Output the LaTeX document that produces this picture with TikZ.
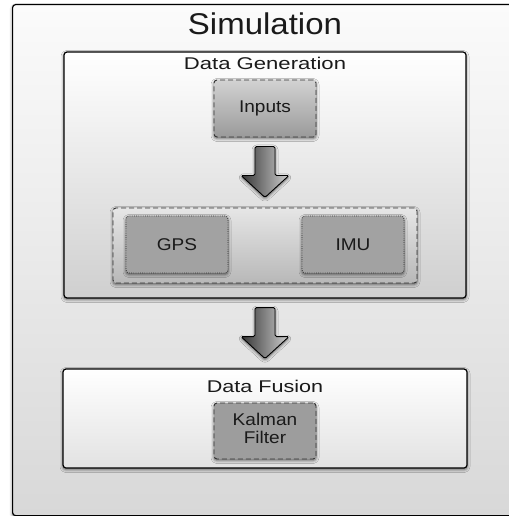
\documentclass[tikz,border=0pt]{standalone}
\usepackage{fontspec}
\setmainfont{Liberation Sans}
\usepackage{graphicx}
\usetikzlibrary{shadows.blur,calc}
\definecolor{txt}{HTML}{1A1A1A}
\definecolor{outtop}{HTML}{FBFBFB}
\definecolor{outbot}{HTML}{D8D8D8}
\definecolor{dgbot}{HTML}{CFCFCF}
\definecolor{dfbot}{HTML}{E2E2E2}
\definecolor{intop}{HTML}{D2D2D2}
\definecolor{inbot}{HTML}{9A9A9A}
\definecolor{senstop}{HTML}{E6E6E6}
\definecolor{sensbot}{HTML}{B8B8B8}
\definecolor{sensorfill}{HTML}{A2A2A2}
\definecolor{kffill}{HTML}{9D9D9D}
\definecolor{arrdark}{HTML}{353535}
\definecolor{arrlight}{HTML}{D0D0D0}
\definecolor{edge}{HTML}{333333}
\newcommand\hstretch[1]{\scalebox{1.3}[1]{#1}}
\newcommand\istretch[1]{\scalebox{1.12}[1]{#1}}
\tikzset{
  shad/.style={blur shadow={shadow xshift=0pt, shadow yshift=-1.5pt, shadow blur radius=3pt, shadow opacity=60}},
  bigbox/.style={draw=black, line width=1.2pt, rounded corners=3pt, inner sep=0pt, shad},
  dashbox/.style={draw=edge, line width=0.9pt, dash pattern=on 5pt off 3pt, rounded corners=3pt, inner sep=0pt, shad, text=txt},
  dotbox/.style={draw=edge, line width=0.8pt, dash pattern=on 0.8pt off 1.4pt, rounded corners=3pt, inner sep=0pt, fill=sensorfill, shad, text=txt},
  lbl/.style={text=txt, inner sep=0pt, font=\fontsize{17}{18}\selectfont},
  bodytext/.style={font=\fontsize{17}{17}\selectfont},
  arrowstyle/.style={draw=black, line width=0.9pt, rounded corners=1.5pt, left color=arrdark, right color=arrlight, shad},
  blockarrow/.pic={
    \path[arrowstyle] (-10,0) -- (10,0) -- (10,29) -- (24,29) -- (0,51) -- (-24,29) -- (-10,29) -- cycle;
  }
}
\begin{document}
\begin{tikzpicture}[x=1pt,y=-1pt]
\useasboundingbox (0,0) rectangle (508,516);
% outer frame
\node[bigbox, top color=outtop, bottom color=outbot, anchor=north west,
      minimum width=530pt, minimum height=511pt] (sim) at (12,4) {};
\node[text=txt, inner sep=0pt, font=\fontsize{30}{34}\selectfont] (title) at (265,24) {\scalebox{1.1}[1]{Simulation}};
% data generation
\node[bigbox, top color=white, bottom color=dgbot, minimum width=402pt, minimum height=246pt] (dg) at (265,175) {};
\node[lbl] (dglbl) at (265,63.3) {\hstretch{Data Generation}};
\node[dashbox, bodytext, top color=intop, bottom color=inbot, minimum width=102pt, minimum height=57pt] (inputs) at (265,108.5) {\istretch{Inputs}};
\node[dashbox, top color=senstop, bottom color=sensbot, minimum width=304pt, minimum height=75pt] (sens) at (265,245.5) {};
\node[dotbox, bodytext, minimum width=102pt, minimum height=57pt] (gps) at (177,244.5) {\istretch{GPS}};
\node[dotbox, bodytext, minimum width=102pt, minimum height=57pt] (imu) at (353,244.5) {\istretch{IMU}};
% data fusion
\node[bigbox, top color=white, bottom color=dfbot, minimum width=404pt, minimum height=99pt] (df) at (265,418.5) {};
\node[lbl] (dflbl) at (265,386.7) {\scalebox{1.27}[1]{Data Fusion}};
\node[dashbox, bodytext, fill=kffill, minimum width=102pt, minimum height=56pt] (kf) at (265,431) {\istretch{\begin{tabular}{@{}c@{}}Kalman\\Filter\end{tabular}}};
% block arrows
\pic (arrA) at ($(inputs.south)+(0,9)$) {blockarrow};
\pic (arrB) at ($(dg.south)+(0,9)$) {blockarrow};
\end{tikzpicture}
\end{document}
